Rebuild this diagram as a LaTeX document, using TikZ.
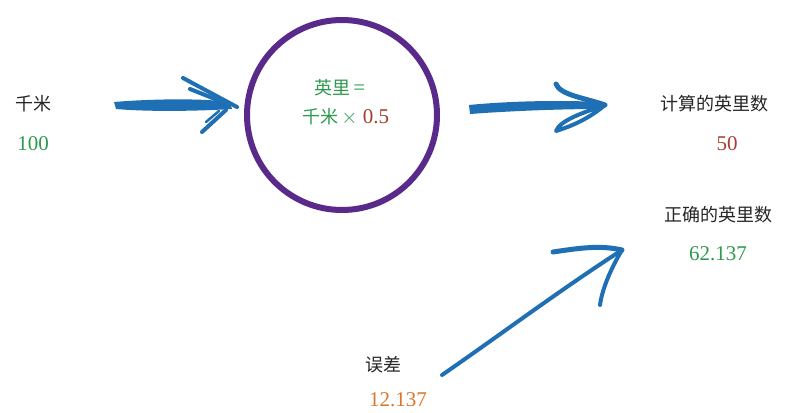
\documentclass[tikz,border=0pt]{standalone}
\usepackage{fontspec}
\setmainfont{Liberation Serif}
\newfontfamily\cjk{Noto Sans CJK SC}
\definecolor{cgreen}{HTML}{2E9A4F}
\definecolor{cred}{HTML}{A3402E}
\definecolor{corange}{HTML}{D9772B}
\definecolor{cblue}{HTML}{1F6FB4}
\definecolor{cpurple}{HTML}{5A2A8A}
\begin{document}
\begin{tikzpicture}[x=1pt,y=-1pt,
  lbl/.style={font=\cjk\fontsize{18}{20}\selectfont, text=black!85, inner sep=1pt},
  val/.style={font=\fontsize{21}{23}\selectfont, inner sep=1pt},
  brush/.style={draw=cblue, line width=#1, line cap=round, line join=round},
  brush/.default=5pt]
\useasboundingbox (0,0) rectangle (805,412);
\fill[white] (0,0) rectangle (805,412);

% labels
\node[lbl] (km) at (33,104) {千米};
\node[val, text=cgreen] (kmv) at (33,144) {100};
\node[lbl] (calc) at (714,104) {计算的英里数};
\node[val, text=cred] (calcv) at (727,144) {50};
\node[lbl] (true) at (718,215) {正确的英里数};
\node[val, text=cgreen] (truev) at (718,254) {62.137};
\node[lbl] (err) at (383,365) {误差};
\node[val, text=corange] (errv) at (398,400) {12.137};

% conversion circle
\node[circle, draw=cpurple, line width=6pt, minimum size=190pt, inner sep=0pt] (conv) at (342,115) {};
\node[inner sep=0pt] (formula1) at (340,88)
  {{\cjk\fontsize{18}{20}\selectfont\color{cgreen}英里} {\fontsize{21}{23}\selectfont\color{cgreen}=}};
\node[inner sep=0pt] (formula2) at (346,117)
  {{\cjk\fontsize{18}{20}\selectfont\color{cgreen}千米} {\fontsize{21}{23}\selectfont\color{cgreen}$\times$ \color{cred}0.5}};

% arrow 1: km -> circle
\coordinate (a1s) at (114,105);
\coordinate (a1t) at (237,107);
\fill[cblue] (a1s) ++(0,-3) .. controls (150,99) and (200,98) .. (230,102)
  -- (232,109) .. controls (200,111) and (150,112) .. (116,109) -- cycle;
\draw[brush=4pt] (183,78) -- (a1t);
\draw[brush=4pt] (190,89) -- (225,103);
\draw[brush=4pt] (202,132) -- (226,110);
\draw[brush=2.5pt] (206,122) -- (219,111);

% arrow 2: circle -> calc
\coordinate (a2s) at (469,110);
\coordinate (a2t) at (605,105);
\fill[cblue] (a2s) ++(0,-5) .. controls (510,101) and (560,100) .. (600,102)
  -- (600,109) .. controls (560,109) and (510,111) .. (470,114) -- cycle;
\draw[brush=5pt] (556,84) .. controls (560,95) and (585,98) .. (a2t);
\draw[brush=4pt] (a2t) .. controls (585,112) and (560,120) .. (556,131)
  .. controls (565,128) and (585,122) .. (a2t);

% arrow 3: error -> true
\coordinate (a3s) at (442,375);
\coordinate (a3t) at (622,250);
\draw[brush=4pt] (a3s) .. controls (500,335) and (560,290) .. (a3t);
\draw[brush=5pt] (553,252) .. controls (580,248) and (600,245) .. (a3t);
\draw[brush=4pt] (a3t) .. controls (610,270) and (602,290) .. (600,305);
\end{tikzpicture}
\end{document}
